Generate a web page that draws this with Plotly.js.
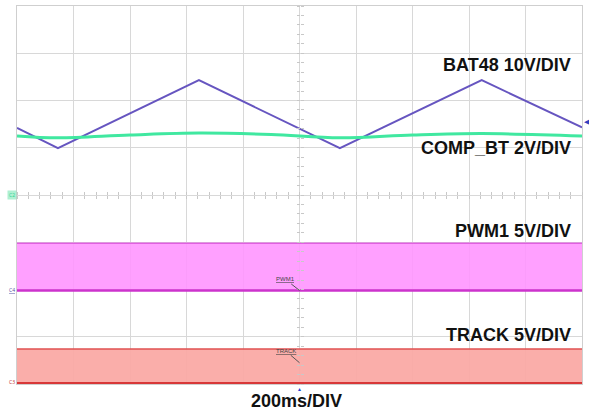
<!DOCTYPE html>
<html>
<head>
<meta charset="utf-8">
<script src="https://cdn.plot.ly/plotly-3.0.1.min.js"></script>
<style>html,body{margin:0;padding:0;background:#fff}#chart{width:589px;height:419px}</style>
</head>
<body>
<div id="chart"></div>
<script>
// time in ms (200 ms/DIV, 10 divisions), amplitudes in screen divisions
const batTime = [0, 145, 644, 1143, 1645, 2000];
const batDiv  = [1.42, 0.99, 2.43, 0.99, 2.43, 1.43];

const compTime = [0, 145, 400, 644, 900, 1143, 1400, 1645, 2000];
const compDiv  = [1.25, 1.21, 1.27, 1.31, 1.28, 1.21, 1.27, 1.30, 1.25];

const pwmTime = [0, 2000];
const pwmHigh = [-1.02, -1.02];
const pwmLow  = [-2.02, -2.02];

const trackTime = [0, 500, 1000, 1500, 2000];
const trackHigh = [-3.26, -3.26, -3.25, -3.26, -3.26];
const trackLow  = [-3.98, -3.98, -3.97, -3.98, -3.98];

const labels = ["BAT48 10V/DIV", "COMP_BT 2V/DIV", "PWM1 5V/DIV", "TRACK 5V/DIV"];
const labelY = [2.75, 0.99, -0.76, -2.96];
const timeLabel = "200ms/DIV";

const traces = [
  {x: pwmTime, y: pwmLow, mode: 'lines', line: {color: '#cc33cc', width: 2.5}, hoverinfo: 'skip'},
  {x: pwmTime, y: pwmHigh, mode: 'lines', fill: 'tonexty', fillcolor: 'rgba(255,150,255,0.9)', line: {color: '#e060e0', width: 1.5}, hoverinfo: 'skip'},
  {x: trackTime, y: trackLow, mode: 'lines', line: {color: '#d83838', width: 2}, hoverinfo: 'skip'},
  {x: trackTime, y: trackHigh, mode: 'lines', fill: 'tonexty', fillcolor: 'rgba(250,170,165,0.95)', line: {color: '#e05050', width: 1.5}, hoverinfo: 'skip'},
  {x: batTime, y: batDiv, mode: 'lines', line: {color: '#6655c0', width: 2}},
  {x: compTime, y: compDiv, mode: 'lines', line: {color: '#40e8a0', width: 3, shape: 'spline'}}
];

const txtFont = {family: 'Liberation Sans, Arial, sans-serif', size: 18, color: '#111'};
const annotations = labels.map((t, i) => ({
  x: 1968, y: labelY[i], xref: 'x', yref: 'y', text: '<b>' + t + '</b>',
  showarrow: false, xanchor: 'right', yanchor: 'middle', font: txtFont
}));
annotations.push({x: 0.495, y: -0.045, xref: 'paper', yref: 'paper', text: '<b>' + timeLabel + '</b>',
  showarrow: false, xanchor: 'center', yanchor: 'middle', font: txtFont});
// small in-screen labels
annotations.push({x: 1000, y: -2.02, xref: 'x', yref: 'y', ax: -14, ay: -11, text: '<u>PWM1</u>',
  showarrow: true, arrowhead: 0, arrowwidth: 1, arrowcolor: '#555', font: {family: 'Liberation Sans', size: 6, color: '#444'}});
annotations.push({x: 1000, y: -3.55, xref: 'x', yref: 'y', ax: -14, ay: -12, text: '<u>TRACK</u>',
  showarrow: true, arrowhead: 0, arrowwidth: 1, arrowcolor: '#555', font: {family: 'Liberation Sans', size: 6, color: '#444'}});
// channel markers
annotations.push({x: 0, y: 0, xref: 'paper', yref: 'y', xanchor: 'right', text: 'C2', showarrow: false,
  font: {size: 5, color: '#30d090'}, bgcolor: 'rgba(120,230,180,0.6)'});
annotations.push({x: 0, y: -2.02, xref: 'paper', yref: 'y', xanchor: 'right', text: '<u>C4</u>', showarrow: false,
  font: {size: 5, color: '#5050a0'}});
annotations.push({x: 0, y: -3.96, xref: 'paper', yref: 'y', xanchor: 'right', text: 'C3', showarrow: false,
  font: {size: 5, color: '#c03030'}});
annotations.push({x: 1, y: 1.55, xref: 'paper', yref: 'y', xanchor: 'left', text: '◀', showarrow: false,
  font: {size: 7, color: '#3040c0'}});
annotations.push({x: 1000, y: 0, xref: 'x', yref: 'paper', yanchor: 'top', text: '▲', showarrow: false,
  font: {size: 5, color: '#2040d0'}});

const layout = {
  width: 589, height: 419,
  margin: {l: 17, r: 7, t: 6, b: 35},
  paper_bgcolor: '#fff', plot_bgcolor: '#fff',
  showlegend: false,
  xaxis: {range: [0, 2000], dtick: 200, showgrid: true, gridcolor: '#d8d8d8', gridwidth: 1,
    zeroline: false, showticklabels: false, ticks: '', showline: true, mirror: true, linecolor: '#cfcfcf', fixedrange: true},
  yaxis: {range: [-4, 4], dtick: 1, showgrid: true, gridcolor: '#d8d8d8', gridwidth: 1,
    zeroline: false, showticklabels: false, ticks: '', showline: true, mirror: true, linecolor: '#cfcfcf', fixedrange: true},
  xaxis2: {overlaying: 'x', range: [0, 2000], anchor: 'free', position: 0.5, side: 'bottom', dtick: 40,
    ticks: 'outside', ticklen: 3, tickcolor: '#c8c8c8', showticklabels: false, showgrid: false, showline: false, zeroline: false},
  xaxis3: {overlaying: 'x', range: [0, 2000], anchor: 'free', position: 0.5, side: 'top', dtick: 40,
    ticks: 'outside', ticklen: 3, tickcolor: '#c8c8c8', showticklabels: false, showgrid: false, showline: false, zeroline: false},
  yaxis2: {overlaying: 'y', range: [-4, 4], anchor: 'free', position: 0.5, side: 'left', dtick: 0.2,
    ticks: 'outside', ticklen: 3, tickcolor: '#c8c8c8', showticklabels: false, showgrid: false, showline: false, zeroline: false},
  yaxis3: {overlaying: 'y', range: [-4, 4], anchor: 'free', position: 0.5, side: 'right', dtick: 0.2,
    ticks: 'outside', ticklen: 3, tickcolor: '#c8c8c8', showticklabels: false, showgrid: false, showline: false, zeroline: false},
  annotations: annotations
};

// dummy traces to activate the center tick axes
traces.push({x: [null], y: [null], xaxis: 'x2', yaxis: 'y2', hoverinfo: 'skip'});
traces.push({x: [null], y: [null], xaxis: 'x3', yaxis: 'y3', hoverinfo: 'skip'});

Plotly.newPlot('chart', traces, layout, {displayModeBar: false, staticPlot: true});
</script>
</body>
</html>
